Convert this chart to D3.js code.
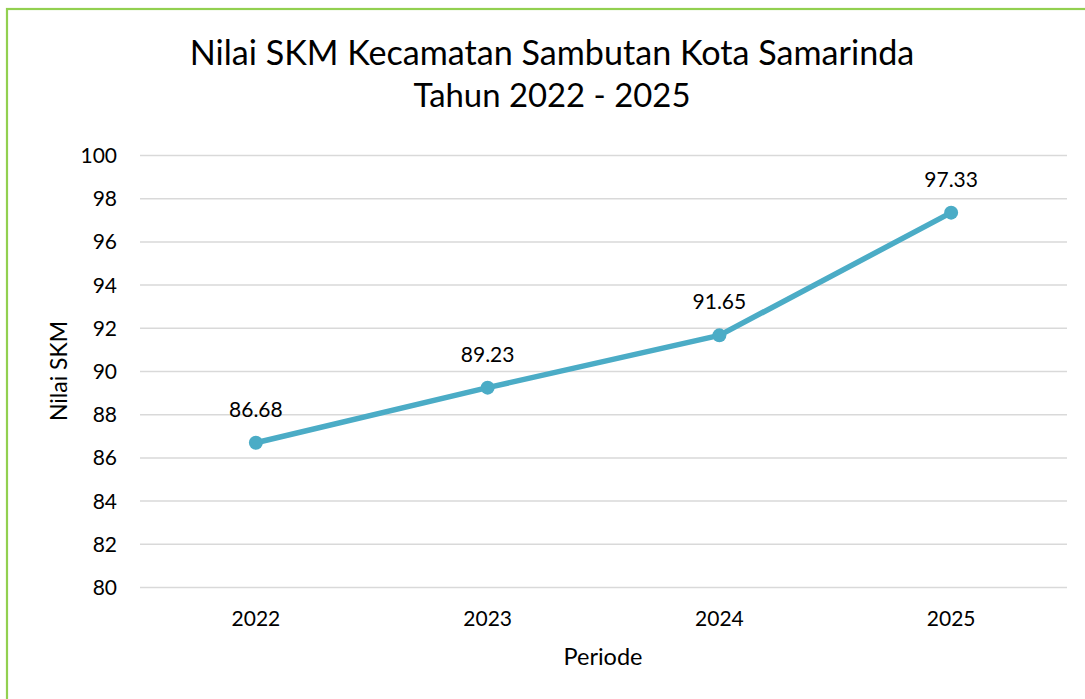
<!DOCTYPE html>
<html>
<head>
<meta charset="utf-8">
<script src="https://cdn.jsdelivr.net/npm/d3@7/dist/d3.min.js"></script>
<style>
  html, body { margin: 0; padding: 0; background: #fff; }
  svg { display: block; font-family: Lato, "Open Sans", sans-serif; }
</style>
</head>
<body>
<svg id="chart" width="1085" height="699"></svg>
<script>
const categories = ["2022", "2023", "2024", "2025"];
const values = [86.68, 89.23, 91.65, 97.33];
const yTicks = [80, 82, 84, 86, 88, 90, 92, 94, 96, 98, 100];
const titleLines = ["Nilai SKM Kecamatan Sambutan Kota Samarinda", "Tahun 2022 - 2025"];
const xTitle = "Periode";
const yTitle = "Nilai SKM";

const svg = d3.select("#chart");
const W = 1085, H = 699;
const plot = { left: 140, right: 1067, top: 155, bottom: 587 };

svg.append("rect").attr("x", 0).attr("y", 0).attr("width", W).attr("height", H).attr("fill", "#fff");
// chart area border (extends past the frame on right/bottom)
svg.append("rect")
  .attr("x", 7).attr("y", 9).attr("width", 1200).attr("height", 800)
  .attr("fill", "none").attr("stroke", "#92D050").attr("stroke-width", 2.2);

const x = d3.scaleBand().domain(categories).range([plot.left, plot.right]);
const y = d3.scaleLinear().domain([80, 100]).range([plot.bottom, plot.top]);

function fit(sel, target) {
  const node = sel.node();
  const fs = parseFloat(sel.attr("font-size"));
  const w = node.getComputedTextLength();
  if (w > 0) sel.attr("font-size", fs * target / w);
  return sel;
}

// gridlines
const yAxis = d3.axisLeft(y).tickValues(yTicks).tickSize(-(plot.right - plot.left)).tickPadding(23).tickFormat(d3.format("d"));
const gy = svg.append("g").attr("transform", `translate(${plot.left},0)`).call(yAxis);
gy.select(".domain").remove();
gy.selectAll(".tick line").attr("stroke", "#d9d9d9").attr("stroke-width", 1.5);
gy.selectAll(".tick text").attr("font-size", 21).attr("fill", "#000")
  .attr("font-family", "Lato, sans-serif").attr("dy", "0.36em");

// x axis labels
const xAxis = d3.axisBottom(x).tickSize(0).tickPadding(0);
const gx = svg.append("g").attr("transform", `translate(0,${plot.bottom})`).call(xAxis);
gx.select(".domain").remove();
gx.selectAll(".tick text").attr("font-size", 21).attr("fill", "#000")
  .attr("font-family", "Lato, sans-serif").attr("dy", null).attr("y", 39);

// line
const line = d3.line().x((d, i) => x(categories[i]) + x.bandwidth() / 2).y(d => y(d));
svg.append("path").datum(values).attr("d", line)
  .attr("fill", "none").attr("stroke", "#4BACC6").attr("stroke-width", 5.5)
  .attr("stroke-linejoin", "round").attr("stroke-linecap", "round");

svg.selectAll("circle.pt").data(values).enter().append("circle")
  .attr("class", "pt")
  .attr("cx", (d, i) => x(categories[i]) + x.bandwidth() / 2)
  .attr("cy", d => y(d)).attr("r", 7).attr("fill", "#4BACC6");

svg.selectAll("text.lbl").data(values).enter().append("text")
  .attr("class", "lbl")
  .attr("x", (d, i) => x(categories[i]) + x.bandwidth() / 2)
  .attr("y", d => y(d) - 26)
  .attr("text-anchor", "middle").attr("font-size", 21).attr("fill", "#000")
  .text(d => d.toFixed(2));

// title
const t1 = svg.append("text").attr("x", 552).attr("y", 65).attr("text-anchor", "middle")
  .attr("font-size", 32).attr("fill", "#000").text(titleLines[0]);
fit(t1, 725);
const t2 = svg.append("text").attr("x", 552).attr("y", 107).attr("text-anchor", "middle")
  .attr("font-size", 32).attr("fill", "#000").text(titleLines[1]);
fit(t2, 277);

// axis titles
const xt = svg.append("text").attr("x", 603).attr("y", 665).attr("text-anchor", "middle")
  .attr("font-size", 22).attr("fill", "#000").text(xTitle);
fit(xt, 79);
const yt = svg.append("text").attr("transform", `translate(67,${(plot.top + plot.bottom) / 2}) rotate(-90)`)
  .attr("text-anchor", "middle").attr("font-size", 22).attr("fill", "#000").text(yTitle);
fit(yt, 100);
</script>
</body>
</html>
